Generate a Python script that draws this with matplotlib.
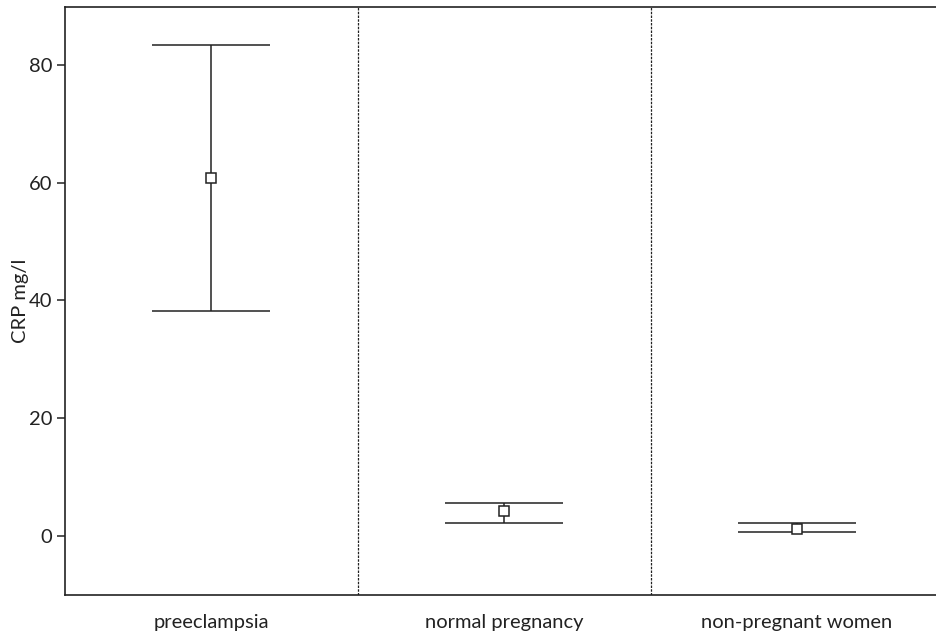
import numpy as np
import matplotlib
matplotlib.use("Agg")
import matplotlib.pyplot as plt

groups = ["preeclampsia", "normal pregnancy", "non-pregnant women"]
crp_mean = [60.9, 4.2, 1.1]
crp_lower = [38.2, 2.1, 0.6]
crp_upper = [83.4, 5.6, 2.1]

plt.rcParams['font.family'] = ['Lato', 'DejaVu Sans']

fig = plt.figure(figsize=(9.37, 6.33), dpi=100)
ax = fig.add_axes([65 / 937, 1 - 595 / 633, 1 - 65 / 937, (595 - 7) / 633])

x = np.arange(1, len(groups) + 1)
mean = np.array(crp_mean)
yerr = [mean - np.array(crp_lower), np.array(crp_upper) - mean]

ax.errorbar(x, mean, yerr=yerr, fmt='none', ecolor='#222222', elinewidth=1.1,
            capsize=42.5, capthick=1.1, zorder=2)
ax.plot(x, mean, 's', markersize=7.7, markerfacecolor='white',
        markeredgecolor='#222222', markeredgewidth=1.1, zorder=3)

for sep in [1.5, 2.5]:
    ax.axvline(sep, color='#222222', linewidth=0.9, linestyle=(0, (2, 1)), zorder=1)

ax.set_xlim(0.5, 3.478)
ax.set_ylim(-10.1, 89.9)
ax.set_yticks([0, 20, 40, 60, 80])
ax.set_xticks(x)
ax.set_xticklabels(groups)
ax.tick_params(axis='x', length=0, pad=14, labelsize=14.5, colors='#222222')
ax.tick_params(axis='y', length=6, width=1.1, pad=3, labelsize=14.5, colors='#222222')
ax.set_ylabel("CRP mg/l", fontsize=14.5, color='#222222', labelpad=0)

for side in ['left', 'bottom', 'top']:
    ax.spines[side].set_linewidth(1.2)
    ax.spines[side].set_color('#222222')
ax.spines['right'].set_visible(False)

fig.savefig("out.png", dpi=100)
